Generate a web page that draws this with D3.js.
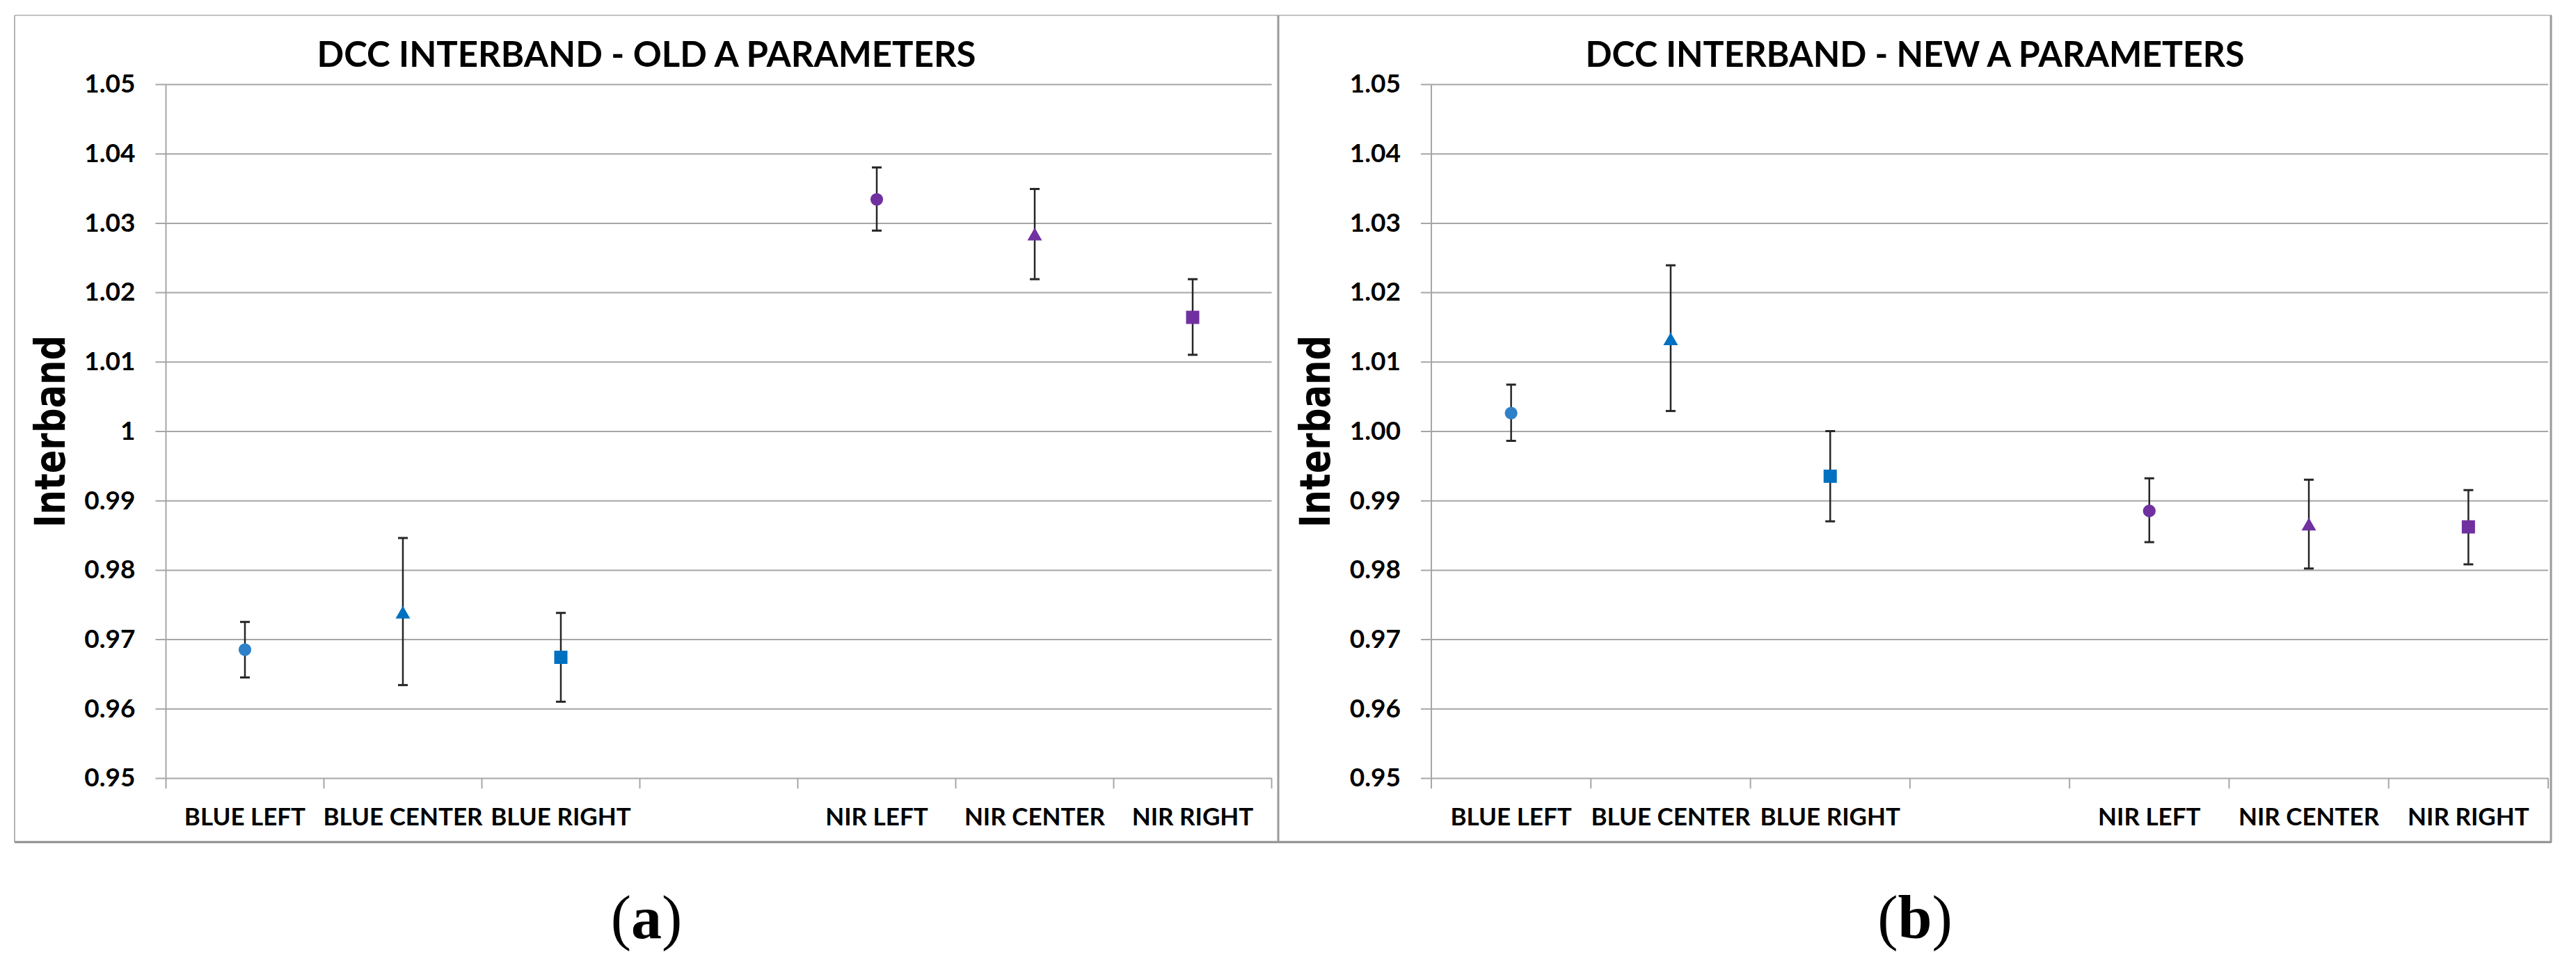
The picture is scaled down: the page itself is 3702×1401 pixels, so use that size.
<!DOCTYPE html>
<html>
<head>
<meta charset="utf-8">
<script src="https://cdn.jsdelivr.net/npm/d3@7"></script>
<style>
  body { margin: 0; background: #fff; }
  svg { display: block; }
</style>
</head>
<body>
<div id="chart"></div>
<script>
// DATA
const categories = ["BLUE LEFT", "BLUE CENTER", "BLUE RIGHT", "", "NIR LEFT", "NIR CENTER", "NIR RIGHT"];

const oldValues = [0.9685, 0.9738, 0.9674, null, 1.0334, 1.0283, 1.0164];
const oldUpper  = [0.9725, 0.9846, 0.9738, null, 1.0380, 1.0349, 1.0219];
const oldLower  = [0.9645, 0.9634, 0.9610, null, 1.0289, 1.0219, 1.0110];

const newValues = [1.0026, 1.0132, 0.9935, null, 0.9885, 0.9865, 0.9862];
const newUpper  = [1.0067, 1.0239, 1.0000, null, 0.9932, 0.9930, 0.9915];
const newLower  = [0.9986, 1.0029, 0.9870, null, 0.9840, 0.9802, 0.9808];

const yTicks = [0.95, 0.96, 0.97, 0.98, 0.99, 1.00, 1.01, 1.02, 1.03, 1.04, 1.05];
const oldTickLabels = ["0.95", "0.96", "0.97", "0.98", "0.99", "1", "1.01", "1.02", "1.03", "1.04", "1.05"];
const newTickLabels = ["0.95", "0.96", "0.97", "0.98", "0.99", "1.00", "1.01", "1.02", "1.03", "1.04", "1.05"];

const markerShapes = ["circle", "triangle", "square", null, "circle", "triangle", "square"];
const markerColors = ["#2e80c8", "#0070c0", "#0070c0", null, "#7030a0", "#7030a0", "#7030a0"];


const chart = {
    width: 3702,
    height: 1401,
    gridColor: "#a6a6a6",
    labelFont: "Lato, 'Open Sans', sans-serif",

setup() {
    this.svg = d3.select("#chart").append("svg")
        .attr("width", this.width).attr("height", this.height);
    this.svg.append("rect").attr("width", this.width).attr("height", this.height).attr("fill", "#fff");

    // outer frame of the two pasted excel charts
    const frame = this.svg.append("g").attr("fill", "none");
    frame.append("line").attr("x1", 21).attr("x2", 3667).attr("y1", 22).attr("y2", 22)
        .attr("stroke", "#c4c4c4").attr("stroke-width", 2);
    frame.append("line").attr("x1", 21).attr("x2", 21).attr("y1", 22).attr("y2", 1210)
        .attr("stroke", "#b4b4b4").attr("stroke-width", 2);
    frame.append("line").attr("x1", 21).attr("x2", 3667).attr("y1", 1210).attr("y2", 1210)
        .attr("stroke", "#8c8c8c").attr("stroke-width", 3);
    frame.append("line").attr("x1", 1837).attr("x2", 1837).attr("y1", 22).attr("y2", 1210)
        .attr("stroke", "#9a9a9a").attr("stroke-width", 3);
    frame.append("line").attr("x1", 3666).attr("x2", 3666).attr("y1", 22).attr("y2", 1210)
        .attr("stroke", "#9a9a9a").attr("stroke-width", 3);
},

drawPanel(p) {
    const g = this.svg.append("g");

    const x = d3.scaleBand().domain(categories).range([p.left, p.right]);
    const y = d3.scaleLinear().domain([0.95, 1.05]).range([1118, 121]);
    const plotW = p.right - p.left;

    // TITLE
    g.append("text")
        .attr("x", p.titleX).attr("y", 96)
        .attr("text-anchor", "middle")
        .attr("textLength", 947).attr("lengthAdjust", "spacingAndGlyphs")
        .style("font-family", this.labelFont)
        .style("font-weight", 700).style("font-size", "52px")
        .text(p.title);

    // Y GRID + LABELS
    const yAxis = g.append("g")
        .attr("transform", "translate(" + p.left + ",0)")
        .call(d3.axisLeft(y)
            .tickValues(yTicks)
            .tickFormat((d, i) => p.tickLabels[i])
            .tickSize(-plotW)
            .tickPadding(44));
    yAxis.select(".domain").remove();
    yAxis.selectAll(".tick line")
        .attr("x1", -15).attr("x2", plotW)
        .attr("stroke", this.gridColor).attr("stroke-width", 2);
    yAxis.selectAll(".tick text")
        .attr("fill", "#000")
        .style("font-family", this.labelFont)
        .style("font-weight", 700).style("font-size", "37px");

    // vertical axis line
    g.append("line")
        .attr("x1", p.left).attr("x2", p.left).attr("y1", y(1.05)).attr("y2", y(0.95) + 15)
        .attr("stroke", this.gridColor).attr("stroke-width", 2);

    // X TICKS between categories
    const bounds = categories.map(c => x(c)).concat([p.right]);
    g.selectAll(".xtick").data(bounds.slice(1)).enter().append("line")
        .attr("class", "xtick")
        .attr("x1", d => d).attr("x2", d => d)
        .attr("y1", y(0.95)).attr("y2", y(0.95) + 15)
        .attr("stroke", this.gridColor).attr("stroke-width", 2);

    g.selectAll(".xlabel").data(categories).enter().append("text")
        .attr("class", "xlabel")
        .attr("x", d => x(d) + x.bandwidth() / 2)
        .attr("y", 1186)
        .attr("text-anchor", "middle")
        .style("font-family", this.labelFont)
        .style("font-weight", 700).style("font-size", "35px")
        .text(d => d);

    // Y TITLE
    g.append("text")
        .attr("transform", "translate(" + (p.left - 146) + ",620) rotate(-90)")
        .attr("text-anchor", "middle")
        .attr("textLength", 276).attr("lengthAdjust", "spacingAndGlyphs")
        .style("font-family", "'DejaVu Sans', Verdana, sans-serif")
        .style("font-weight", 700).style("font-size", "60px")
        .text("Interband");

    // DATA
    const pts = categories.map((c, i) => ({
        cat: c, v: p.values[i], hi: p.upper[i], lo: p.lower[i],
        shape: markerShapes[i], color: markerColors[i]
    })).filter(d => d.v != null);

    const cx = d => x(d.cat) + x.bandwidth() / 2;

    const bars = g.selectAll(".err").data(pts).enter().append("g")
        .attr("class", "err")
        .attr("stroke", "#262626").attr("stroke-width", 2.5);
    bars.append("line")
        .attr("x1", cx).attr("x2", cx)
        .attr("y1", d => y(d.hi)).attr("y2", d => y(d.lo));
    bars.append("line")
        .attr("x1", d => cx(d) - 7).attr("x2", d => cx(d) + 7)
        .attr("y1", d => y(d.hi)).attr("y2", d => y(d.hi)).attr("stroke-width", 3);
    bars.append("line")
        .attr("x1", d => cx(d) - 7).attr("x2", d => cx(d) + 7)
        .attr("y1", d => y(d.lo)).attr("y2", d => y(d.lo)).attr("stroke-width", 3);

    const symbols = { circle: d3.symbolCircle, triangle: d3.symbolTriangle, square: d3.symbolSquare };
    const sizes = { circle: 260, triangle: 190, square: 361 };
    g.selectAll(".marker").data(pts).enter().append("path")
        .attr("class", "marker")
        .attr("transform", d => "translate(" + cx(d) + "," + (y(d.v) + (d.shape === "triangle" ? 2 : 0)) + ")")
        .attr("d", d => d3.symbol().type(symbols[d.shape]).size(sizes[d.shape])())
        .attr("fill", d => d.color);

    // panel letter
    const letter = g.append("text")
        .attr("x", p.titleX).attr("y", 1348)
        .attr("text-anchor", "middle")
        .style("font-family", "'Liberation Serif', 'Times New Roman', serif")
        .style("font-size", "88px");
    letter.append("tspan").text("(");
    letter.append("tspan").style("font-weight", 700).text(p.letter);
    letter.append("tspan").text(")");
},

init() {
    this.setup();
    this.drawPanel({
        left: 238.5, right: 1827.5, titleX: 929,
        title: "DCC INTERBAND - OLD A PARAMETERS",
        tickLabels: oldTickLabels,
        values: oldValues, upper: oldUpper, lower: oldLower,
        letter: "a"
    });
    this.drawPanel({
        left: 2057, right: 3662, titleX: 2752,
        title: "DCC INTERBAND - NEW A PARAMETERS",
        tickLabels: newTickLabels,
        values: newValues, upper: newUpper, lower: newLower,
        letter: "b"
    });
}
};

chart.init();
</script>
</body>
</html>
